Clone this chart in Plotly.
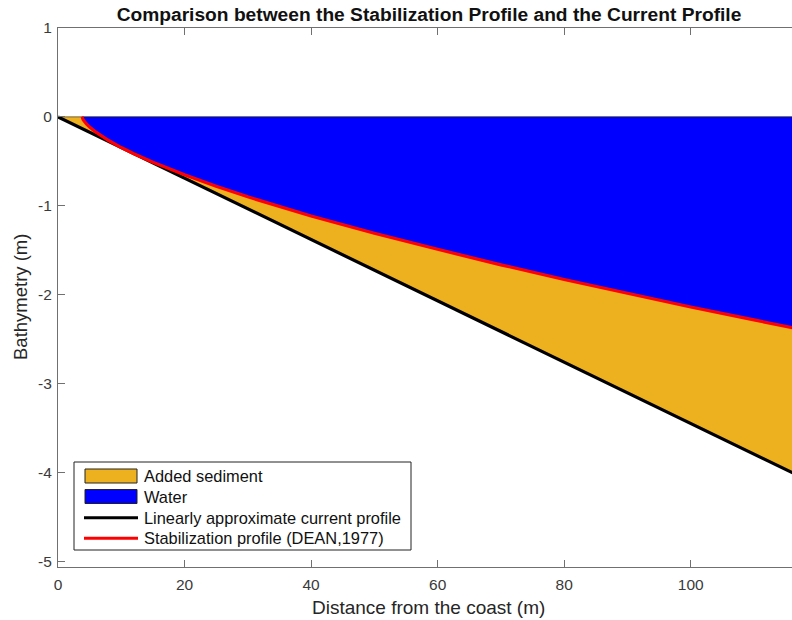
import plotly.graph_objects as go

# Distance from the coast (m) and bathymetry (m)
stab_x = [3.8, 4.0, 4.5, 5, 6, 7, 8, 10, 12, 15, 20, 25, 30, 40, 50, 60, 70, 80, 90, 100, 110, 120]
stab_y = [0, -0.035, -0.08, -0.115, -0.172, -0.222, -0.266, -0.345, -0.415, -0.51, -0.65, -0.78,
          -0.90, -1.115, -1.31, -1.49, -1.665, -1.83, -1.985, -2.14, -2.285, -2.43]
lin_x = [0, 120]
lin_y = [0, -4.14]
x_ticks = [0, 20, 40, 60, 80, 100, 120]
y_ticks = [-5, -4, -3, -2, -1, 0, 1]
legend_names = ["Added sediment", "Water",
                "Linearly approximate current profile",
                "Stabilization profile (DEAN,1977)"]

FONT = "Liberation Sans, Arial, sans-serif"
AX = "#707070"
TXT = "#3a3a3a"
GOLD = "#EDB120"
BLUE = "#0000FF"

W, H = 792, 620
ML, MR, MT, MB = 58, 0, 28, 53
PW, PH = W - ML - MR, H - MT - MB


def px(xp):
    return (xp - ML) / PW


def py(yp):
    return (H - MB - yp) / PH


fig = go.Figure()

sed_x = [lin_x[0]] + stab_x + [lin_x[1], lin_x[0]]
sed_y = [lin_y[0]] + stab_y + [lin_y[1], lin_y[0]]
fig.add_trace(go.Scatter(x=sed_x, y=sed_y, fill="toself", fillcolor=GOLD,
                         mode="lines", line=dict(color="#222222", width=0.6),
                         name=legend_names[0], hoverinfo="skip"))

wat_x = stab_x + [stab_x[-1], stab_x[0]]
wat_y = stab_y + [0, 0]
fig.add_trace(go.Scatter(x=wat_x, y=wat_y, fill="toself", fillcolor=BLUE,
                         mode="lines", line=dict(color="#222222", width=0.8),
                         name=legend_names[1], hoverinfo="skip"))

fig.add_trace(go.Scatter(x=lin_x, y=lin_y, mode="lines",
                         line=dict(color="black", width=3.2), name=legend_names[2]))
fig.add_trace(go.Scatter(x=stab_x, y=stab_y, mode="lines",
                         line=dict(color="#FF0000", width=3.2), name=legend_names[3]))

# ---- legend drawn MATLAB-style (box, swatches, labels) ----
shapes = []
annotations = []
shapes.append(dict(type="rect", xref="paper", yref="paper", layer="above",
                   x0=px(74), x1=px(411), y0=py(462), y1=py(550),
                   fillcolor="white", line=dict(color="#222222", width=1)))
rows = [476, 496.5, 517.7, 538.3]
shapes.append(dict(type="rect", xref="paper", yref="paper", layer="above",
                   x0=px(85), x1=px(137), y0=py(469), y1=py(483),
                   fillcolor=GOLD, line=dict(color="#222222", width=1)))
shapes.append(dict(type="rect", xref="paper", yref="paper", layer="above",
                   x0=px(85), x1=px(137), y0=py(489.5), y1=py(503.5),
                   fillcolor=BLUE, line=dict(color="#222222", width=1)))
shapes.append(dict(type="line", xref="paper", yref="paper", layer="above",
                   x0=px(84), x1=px(138), y0=py(rows[2]), y1=py(rows[2]),
                   line=dict(color="black", width=3)))
shapes.append(dict(type="line", xref="paper", yref="paper", layer="above",
                   x0=px(84), x1=px(138), y0=py(rows[3]), y1=py(rows[3]),
                   line=dict(color="#FF0000", width=3)))
for name, r in zip(legend_names, rows):
    annotations.append(dict(text=name, xref="paper", yref="paper", x=px(142), y=py(r),
                            xanchor="left", yanchor="middle", showarrow=False,
                            font=dict(size=16.4, color="#111111", family=FONT)))

# axis titles
annotations.append(dict(text="Distance from the coast (m)", xref="paper", yref="paper",
                        x=px(428), y=py(607), xanchor="center", yanchor="middle",
                        showarrow=False, font=dict(size=19, color="#262626", family=FONT)))
annotations.append(dict(text="Bathymetry (m)", xref="paper", yref="paper",
                        x=px(20), y=py(297), xanchor="center", yanchor="middle",
                        textangle=-90, showarrow=False,
                        font=dict(size=18.5, color="#262626", family=FONT)))

fig.update_layout(
    width=W, height=H,
    margin=dict(l=ML, r=MR, t=MT, b=MB),
    paper_bgcolor="white", plot_bgcolor="white",
    font=dict(family=FONT, color=TXT, size=15),
    title=dict(text="<b>Comparison between the Stabilization Profile and the Current Profile</b>",
               x=429 / W, xref="container", xanchor="center",
               y=1 - 14 / H, yref="container", yanchor="middle",
               font=dict(size=19.2, color="#111111", family=FONT)),
    showlegend=False,
    shapes=shapes,
    annotations=annotations,
)

fig.update_xaxes(range=[0, 116], tickvals=x_ticks, ticktext=[str(v) for v in x_ticks],
                 ticks="inside", ticklen=7, automargin=False, ticklabelstandoff=3,
                 tickcolor=AX, showline=True, linecolor=AX, linewidth=1.2,
                 mirror="ticks", showgrid=False, zeroline=False,
                 tickfont=dict(size=15.5, color=TXT))
fig.update_yaxes(range=[-5.065, 1], tickvals=y_ticks, ticktext=[str(v) for v in y_ticks],
                 ticks="inside", ticklen=7, automargin=False, ticklabelstandoff=2,
                 tickcolor=AX, showline=True, linecolor=AX, linewidth=1.2,
                 mirror=False, showgrid=False, zeroline=False,
                 tickfont=dict(size=15.5, color=TXT))

fig.write_html("out.html",
               config={"displayModeBar": False},
               post_script="document.body.style.margin='0';"
                           "document.body.style.padding='0';"
                           "document.body.style.overflow='hidden';")
